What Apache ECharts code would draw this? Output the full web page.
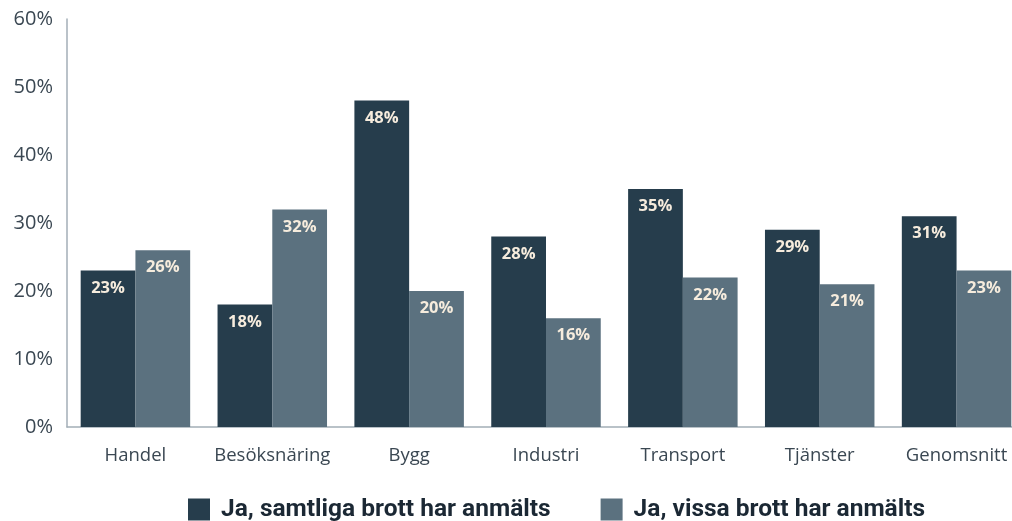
<!DOCTYPE html>
<html><head><meta charset="utf-8">
<script src="https://cdn.jsdelivr.net/npm/echarts@6/dist/echarts.min.js"></script>
<style>html,body{margin:0;padding:0;background:#fff}#c{width:1012px;height:521px}</style>
</head><body><div id="c"></div>
<script>
const categories = ['Handel','Besöksnäring','Bygg','Industri','Transport','Tjänster','Genomsnitt'];
const samtliga = [23,18,48,28,35,29,31];
const vissa = [26,32,20,16,22,21,23];
const seriesNames = ['Ja, samtliga brott har anmälts','Ja, vissa brott har anmälts'];

const chart = echarts.init(document.getElementById('c'), null, {renderer:'canvas'});
const lbl = {show:true, position:'insideTop', distance:9, color:'#f6ecdd', fontFamily:'Open Sans', fontWeight:'bold', fontSize:16.5, formatter: p => p.value + '%'};
chart.setOption({
  animation:false,
  grid:{left:67, width:958, top:19, bottom:94, containLabel:false, outerBoundsMode:'none'},
  legend:{top:497, left:188, itemWidth:22, itemHeight:22, itemGap:50, icon:'rect', padding:0,
    textStyle:{fontFamily:'Roboto', fontWeight:'bold', fontSize:24.5, color:'#1b2834', padding:[0,0,0,6]}},
  xAxis:{type:'category', data:categories,
    axisLine:{lineStyle:{color:'#a3aeb7', width:1.5}}, axisTick:{show:false},
    axisLabel:{interval:0, fontFamily:'Open Sans', fontSize:18.5, color:'#3a4752', margin:19}},
  yAxis:{type:'value', min:0, max:60, interval:10,
    axisLine:{show:true, lineStyle:{color:'#a3aeb7', width:1.5}}, splitLine:{show:false}, axisTick:{show:false},
    axisLabel:{fontFamily:'Open Sans', fontSize:20, color:'#3a4752', margin:14, formatter:'{value}%'}},
  series:[
    {name:seriesNames[0], type:'bar', data:samtliga, barGap:'0%', barCategoryGap:'20%', itemStyle:{color:'#263d4c'}, label:lbl},
    {name:seriesNames[1], type:'bar', data:vissa, itemStyle:{color:'#5b717f'}, label:lbl}
  ]
});
</script></body></html>
